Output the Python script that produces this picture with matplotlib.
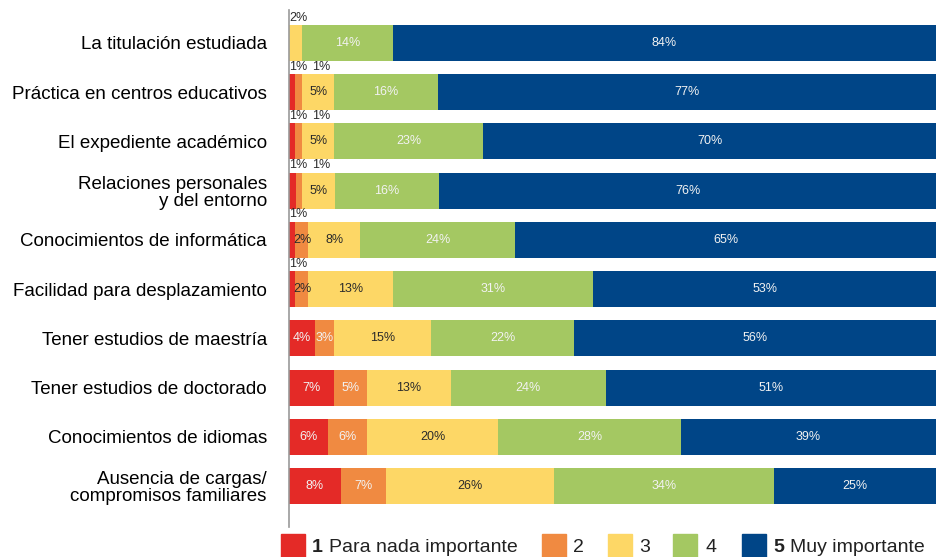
import numpy as np
import matplotlib
matplotlib.use("Agg")
import matplotlib.pyplot as plt
from matplotlib.patches import Rectangle

plt.rcParams['font.family'] = ['Liberation Sans', 'DejaVu Sans']

# === datos ===
categorias = [
    "La titulación estudiada",
    "Práctica en centros educativos",
    "El expediente académico",
    "Relaciones personales\ny del entorno",
    "Conocimientos de informática",
    "Facilidad para desplazamiento",
    "Tener estudios de maestría",
    "Tener estudios de doctorado",
    "Conocimientos de idiomas",
    "Ausencia de cargas/\ncompromisos familiares",
]
nivel_1 = [0, 1, 1, 1, 1, 1, 4, 7, 6, 8]
nivel_2 = [0, 1, 1, 1, 2, 2, 3, 5, 6, 7]
nivel_3 = [2, 5, 5, 5, 8, 13, 15, 13, 20, 26]
nivel_4 = [14, 16, 23, 16, 24, 31, 22, 24, 28, 34]
nivel_5 = [84, 77, 70, 76, 65, 53, 56, 51, 39, 25]
leyenda = ["1", "2", "3", "4", "5"]
leyenda_txt = ["Para nada importante", "", "", "", "Muy importante"]

colores = ["#E42A27", "#F08A41", "#FDD766", "#A4C862", "#004587"]
col_txt = ["#f2f2f2", "#f2f2f2", "#2b2b2b", "#f2f2f2", "#f2f2f2"]

series = np.array([nivel_1, nivel_2, nivel_3, nivel_4, nivel_5])
# las barras llenan el 100% aunque la suma redondeada sea 99
anchos = series / series.sum(axis=0) * 100
y = np.arange(len(categorias))
h = 0.73

fig = plt.figure(figsize=(9.36, 5.57), dpi=100)
ax = fig.add_axes([289 / 936, 1 - 527 / 557, 1 - 289 / 936, 517 / 557])

left = np.zeros(len(categorias))
for j in range(5):
    ax.barh(y, anchos[j], left=left, height=h, color=colores[j], linewidth=0)
    left += anchos[j]

# etiquetas de porcentaje
for i in range(len(categorias)):
    start = 0
    k_arriba = 0
    for j in range(5):
        v = series[j][i]
        w = anchos[j][i]
        if v == 0:
            continue
        if v <= 1 or (v == 2 and j == 2 and i == 0):
            # etiqueta encima de la barra
            ax.text(k_arriba * 3.6, y[i] - h / 2 - 0.03, f"{v}%", ha="left", va="bottom",
                    fontsize=9, color="#2b2b2b")
            k_arriba += 1
        else:
            c = col_txt[j]
            if v == 2:
                c = "#2b2b2b"
            ax.text(start + w / 2, y[i], f"{v}%", ha="center", va="center",
                    fontsize=9, color=c)
        start += w

ax.set_xlim(0, 100)
ax.set_ylim(len(categorias) - 1 + 0.83, -0.67)
ax.set_yticks(y)
ax.set_yticklabels(categorias, fontsize=13.5, linespacing=1.0)
ax.tick_params(axis="y", length=0, pad=16)
ax.set_xticks([])
for s in ["top", "right", "bottom"]:
    ax.spines[s].set_visible(False)
ax.spines["left"].set_color("#999999")
ax.spines["left"].set_linewidth(1.2)

# leyenda manual
sq_x = [281, 542, 608, 673, 742]
num_x = [312, 573, 639, 705, 773]
txt_x = [329, 0, 0, 0, 790]
W, H = 936, 557
for j in range(5):
    fig.patches.append(Rectangle((sq_x[j] / W, 0), 24 / W, 23 / H,
                                 transform=fig.transFigure, color=colores[j]))
    fig.text(num_x[j] / W, 10 / H, leyenda[j], fontsize=14, va="center", ha="left",
             fontweight="bold" if leyenda_txt[j] else "normal", color="#222222")
    if leyenda_txt[j]:
        fig.text(txt_x[j] / W, 10 / H, leyenda_txt[j], fontsize=14, va="center",
                 ha="left", color="#222222")

fig.savefig("out.png", dpi=100)
